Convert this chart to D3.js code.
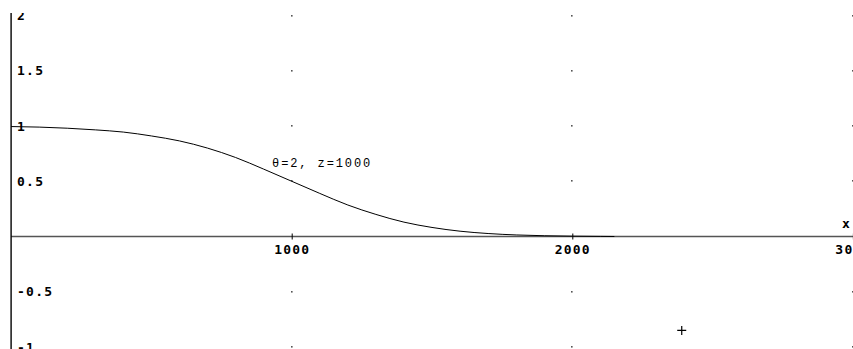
<!DOCTYPE html>
<html><head><meta charset="utf-8">
<script src="https://cdn.jsdelivr.net/npm/d3@7"></script>
<style>
html,body{margin:0;padding:0;background:#fff;overflow:hidden}
svg{display:block}
</style></head>
<body><svg id="c" width="853" height="349"></svg>
<script>
const xValues = [0,100,200,300,400,500,600,700,800,900,1000,1100,1200,1300,1400,1500,1600,1700,1800,1900,2000,2100,2150];
const yValues = [0.995,0.99,0.98,0.965,0.945,0.91,0.865,0.80,0.715,0.61,0.50,0.39,0.285,0.20,0.13,0.082,0.048,0.027,0.014,0.007,0.003,0.001,0];
const xTicks = [1000,2000,3000];
const yTicks = [2,1.5,1,0.5,-0.5,-1];
const yTickLabels = ["2","1.5","1","0.5","-0.5","-1"];
const marker = {x:2390, y:-0.85};
const annotation = "θ=2, z=1000";
const annotationPos = {x:930, y:0.67};

const svg = d3.select("#c");
const x = d3.scaleLinear().domain([0,3000]).range([11.1,852.9]);
const y = d3.scaleLinear().domain([-1,2]).range([347,15.5]);
const plotTop = 13;

svg.append("defs").append("clipPath").attr("id","plot")
  .append("rect").attr("x",0).attr("y",plotTop).attr("width",853).attr("height",349-plotTop);

const root = svg.append("g").attr("clip-path","url(#plot)");
const labelFont = sel => sel.style("font-family","'DejaVu Sans Mono', monospace").style("font-weight","bold")
  .style("font-size","13px").style("letter-spacing","1.2px").attr("fill","#000");

// grid dots
const dots = [];
xTicks.forEach(xv => yTicks.forEach(yv => dots.push([xv,yv])));
root.append("g").selectAll("rect").data(dots).join("rect")
  .attr("x", d => Math.round(x(d[0])) - 1).attr("y", d => Math.round(y(d[1])) - 1)
  .attr("width",1.6).attr("height",1.6).attr("fill","#555");

// x axis
const xAxis = d3.axisBottom(x).tickValues(xTicks).tickSize(3).tickFormat(d3.format("d"));
const gx = root.append("g").attr("transform", `translate(0,${y(0)})`).call(xAxis);
gx.select(".domain").attr("stroke","#555").attr("stroke-width",1.6).attr("d", `M${x(0)},0H853`);
gx.selectAll(".tick line").attr("y1",-3).attr("y2",3).attr("stroke","#000");
gx.selectAll(".tick text").attr("y",8).attr("dy","0.71em").call(labelFont);

// y axis line
root.append("line").attr("x1",x(0)).attr("x2",x(0)).attr("y1",plotTop).attr("y2",349)
  .attr("stroke","#000").attr("stroke-width",1.4);

// y labels
root.append("g").selectAll("text").data(yTicks).join("text")
  .attr("x", x(0) + 6).attr("y", d => y(d)).attr("dy","0.36em")
  .text((d,i) => yTickLabels[i]).call(labelFont);

// x axis name
root.append("text").attr("x", 842).attr("y", 223).attr("dy","0.36em").text("x").call(labelFont);

// curve
const line = d3.line().x((d,i) => x(xValues[i])).y(d => y(d)).curve(d3.curveMonotoneX);
root.append("path").attr("d", line(yValues)).attr("fill","none").attr("stroke","#000").attr("stroke-width",1);

// annotation
root.append("text").attr("x", x(annotationPos.x)).attr("y", y(annotationPos.y)).attr("dy","0.36em")
  .text(annotation)
  .style("font-family","'Liberation Mono', monospace")
  .style("font-size","12px").style("letter-spacing","1.9px").attr("fill","#000");

// cross marker
const mx = x(marker.x), my = y(marker.y);
root.append("path").attr("d", `M${mx-4.5},${my}H${mx+4.5}M${mx},${my-4.5}V${my+4.5}`)
  .attr("stroke","#000").attr("stroke-width",1.2).attr("fill","none");
</script>
</body></html>
